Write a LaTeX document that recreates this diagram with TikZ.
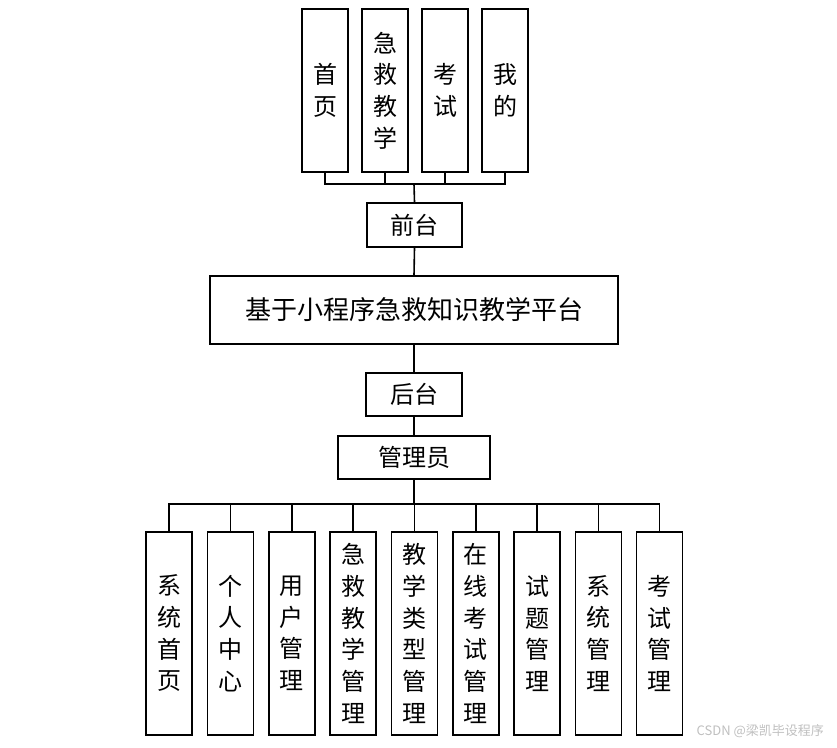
\documentclass[tikz,border=0pt]{standalone}
\usepackage{fontspec}
\setmainfont{Noto Sans CJK SC}
\begin{document}
\begin{tikzpicture}[x=1pt, y=-1pt, line width=1.6pt,
	colbox/.style={draw, fill=white, inner sep=0pt, align=center, minimum width=46pt, font=\fontsize{24}{31.7}\selectfont},
	topbox/.style={colbox, minimum height=163pt},
	subbox/.style={colbox, minimum height=203pt},
	rowbox/.style={draw, fill=white, inner sep=0pt, minimum height=44pt, font=\fontsize{24}{28}\selectfont}]
	% 0. 画布范围
	\useasboundingbox (0,0) rectangle (837,747);
	
	% 1. 前台功能
	\node[topbox] (shouye) at (325,90.5) {首\\页};
	\node[topbox] (jijiu) at (385,90.5) {急\\救\\教\\学};
	\node[topbox] (kaoshi) at (445,90.5) {考\\试};
	\node[topbox] (wode) at (505,90.5) {我\\的};
	
	% 2. 中间层
	\node[rowbox, minimum width=95pt] (qiantai) at (414.5,225) {前台};
	\node[rowbox, minimum width=408pt, minimum height=68pt, font=\fontsize{26}{30}\selectfont] (pingtai) at (414,310) {基于小程序急救知识教学平台};
	\node[rowbox, minimum width=96pt, minimum height=43pt] (houtai) at (414,394.5) {后台};
	\node[rowbox, minimum width=152pt, minimum height=43pt] (guanli) at (414,457.5) {管理员};
	
	% 3. 后台功能
	\node[subbox] (xtsy) at (169.2,633.4) {系\\统\\首\\页};
	\node[subbox] (grzx) at (230.5,633.4) {个\\人\\中\\心};
	\node[subbox] (yhgl) at (291.8,633.4) {用\\户\\管\\理};
	\node[subbox] (jjgl) at (353.1,633.4) {急\\救\\教\\学\\管\\理};
	\node[subbox] (lxgl) at (414.4,633.4) {教\\学\\类\\型\\管\\理};
	\node[subbox] (zxks) at (475.7,633.4) {在\\线\\考\\试\\管\\理};
	\node[subbox] (stgl) at (537.0,633.4) {试\\题\\管\\理};
	\node[subbox] (xtgl) at (598.3,633.4) {系\\统\\管\\理};
	\node[subbox] (ksgl) at (659.6,633.4) {考\\试\\管\\理};
	
	% 4. 连线
	\coordinate (tbus) at (414,184);
	\coordinate (bbus) at (414,504);
	\draw (shouye.south) -- (shouye.south |- tbus) -- (wode.south |- tbus) -- (wode.south);
	\draw (jijiu.south) -- (jijiu.south |- tbus);
	\draw (kaoshi.south) -- (kaoshi.south |- tbus);
	\draw (tbus) -- (qiantai.north);
	\draw (qiantai.south) -- (pingtai.north);
	\draw (pingtai.south) -- (houtai.north);
	\draw (houtai.south) -- (guanli.north);
	\draw (guanli.south) -- (bbus);
	\draw (xtsy.north) -- (xtsy.north |- bbus) -- (ksgl.north |- bbus) -- (ksgl.north);
	\draw (grzx.north) -- (grzx.north |- bbus);
	\draw (yhgl.north) -- (yhgl.north |- bbus);
	\draw (jjgl.north) -- (jjgl.north |- bbus);
	\draw (lxgl.north) -- (lxgl.north |- bbus);
	\draw (zxks.north) -- (zxks.north |- bbus);
	\draw (stgl.north) -- (stgl.north |- bbus);
	\draw (xtgl.north) -- (xtgl.north |- bbus);
	
	% 5. 水印
	\node[text=black!25, font=\fontsize{13}{15}\selectfont, anchor=east] (shuiyin) at (828,731) {CSDN @梁凯毕设程序};
\end{tikzpicture}
\end{document}
